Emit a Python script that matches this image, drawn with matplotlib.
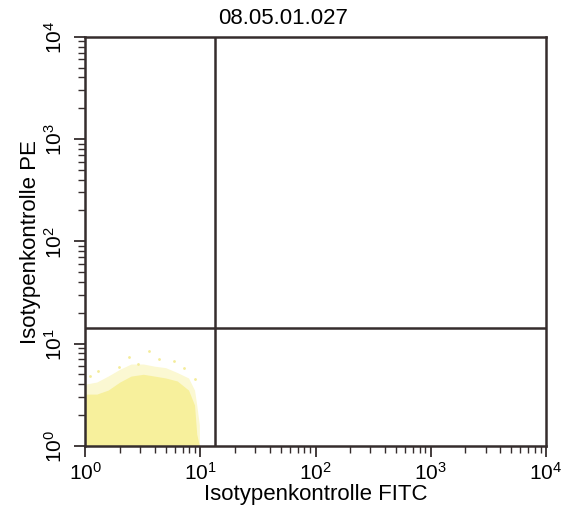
import matplotlib

matplotlib.use("Agg")
import matplotlib.pyplot as plt
import numpy as np

plt.rcParams["font.family"] = ["Liberation Sans", "DejaVu Sans"]

TITLE = "08.05.01.027"
X_LABEL = "Isotypenkontrolle FITC"
Y_LABEL = "Isotypenkontrolle PE"

# quadrant gate positions (linear channel values)
GATE_X = 13.3
GATE_Y = 14.3

# outline of the dense event cloud
cloud_x = [1.0, 1.26, 1.58, 2.0, 2.5, 3.2, 4.0, 5.0, 6.3, 7.9, 8.9, 9.3, 9.8]
cloud_top_dense = [3.2, 3.2, 3.5, 4.2, 4.8, 5.0, 4.8, 4.6, 4.3, 3.5, 2.5, 1.3, 1.0]
cloud_top_sparse = [4.0, 4.2, 4.8, 5.6, 6.3, 6.3, 6.0, 5.8, 5.2, 4.6, 3.5, 2.5, 1.6]

# isolated events above the cloud
stray_x = [1.30, 2.4, 2.9, 4.4, 5.9, 7.2, 1.1, 3.6, 1.95, 8.9]
stray_y = [5.4, 7.4, 6.3, 7.1, 6.8, 5.7, 4.8, 8.5, 5.9, 4.5]

LINE_COLOR = "#352d2d"

fig = plt.figure(figsize=(5.68, 5.10), dpi=100)
ax = fig.add_axes([0.150, 0.124, 0.811, 0.802])
ax.set_xscale("log")
ax.set_yscale("log")
ax.set_xlim(1, 1e4)
ax.set_ylim(1, 1e4)

ax.fill_between(cloud_x, 1, cloud_top_sparse, color="#fbf8d2", linewidth=0, zorder=1)
ax.fill_between(cloud_x, 1, cloud_top_dense, color="#f7f09c", linewidth=0, zorder=2)
ax.scatter(stray_x, stray_y, s=4, color="#f4ec9a", linewidths=0, zorder=2)

ax.axvline(GATE_X, color=LINE_COLOR, linewidth=1.8, zorder=3)
ax.axhline(GATE_Y, color=LINE_COLOR, linewidth=1.8, zorder=3)

for spine in ax.spines.values():
    spine.set_color(LINE_COLOR)
    spine.set_linewidth(1.8)

ax.tick_params(which="major", direction="out", length=8, width=1.3, color=LINE_COLOR,
               labelsize=15, pad=3)
ax.tick_params(which="minor", direction="out", length=5, width=1.0, color=LINE_COLOR)
ax.tick_params(axis="y", which="major", labelrotation=90, pad=6)
for lbl in ax.get_yticklabels():
    lbl.set_verticalalignment("center")

ax.set_xlabel(X_LABEL, fontsize=16, labelpad=0)
ax.set_ylabel(Y_LABEL, fontsize=16, labelpad=2)
fig.text(283 / 568, 1 - 18 / 510, TITLE, fontsize=16, ha="center", va="center")

fig.savefig("out.png", dpi=100)
plt.close(fig)
